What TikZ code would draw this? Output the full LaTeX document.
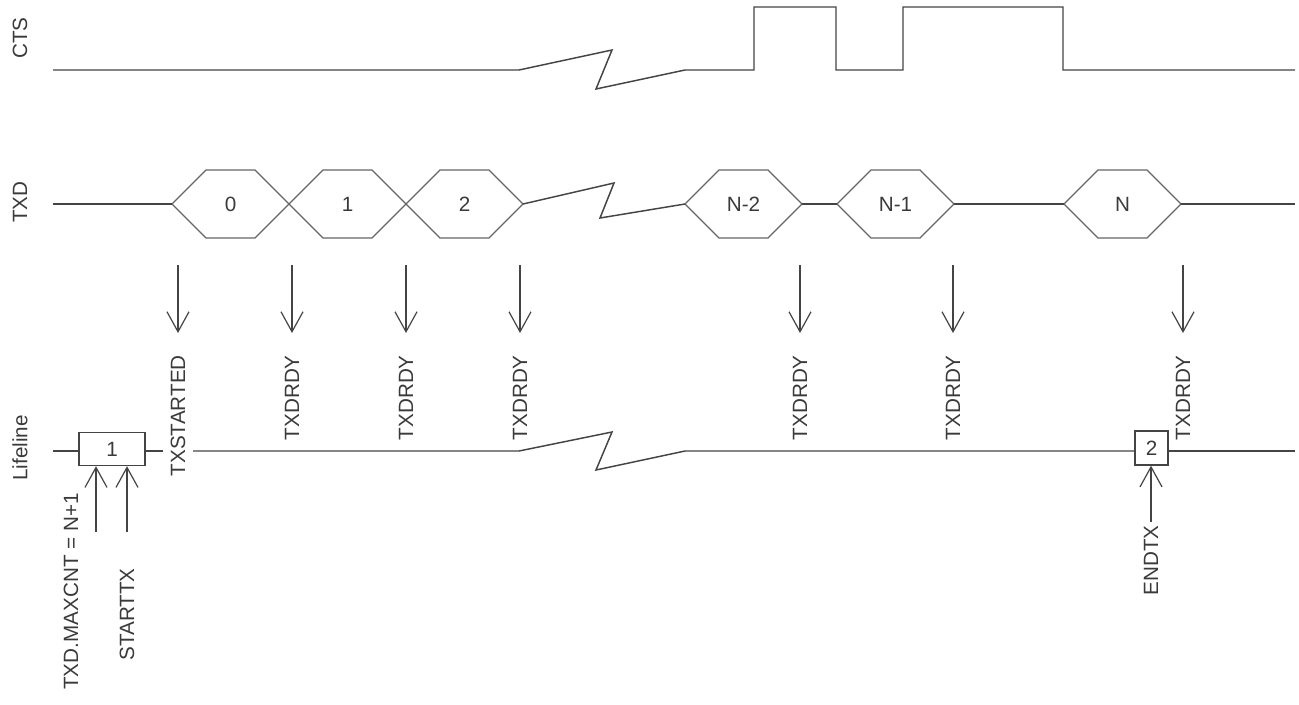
\documentclass[tikz,border=0pt]{standalone}
\usepackage{fontspec}
\setmainfont{Liberation Sans}
\usetikzlibrary{arrows.meta}
\definecolor{ln}{HTML}{444444}
\definecolor{tx}{HTML}{3A3A3A}
\definecolor{hx}{HTML}{666666}
\tikzset{
  wire/.style={draw=ln, line width=1.1pt, line join=miter},
  hexedge/.style={draw=hx, line width=1pt, line join=miter},
  lbl/.style={text=tx, font=\fontsize{15.5}{18}\selectfont, inner sep=0pt},
  vlbl/.style={lbl, rotate=90},
  evt/.style={draw=ln, line width=0.9pt, -{Straight Barb[length=15pt,width=16.5pt]}},
  regbox/.style={draw=ln, line width=1pt, rectangle, inner sep=0pt, text=tx,
    font=\fontsize{15.5}{18}\selectfont},
}
\newcommand\hexsym[3]{%
  \draw[hexedge] (#2,204) -- ++(34,-34) -- ++(49,0) -- ++(34,34) -- ++(-34,34) -- ++(-49,0) -- cycle;
  \node[lbl] (#1) at (#2+58.5,204) {#3};
  \coordinate (#1-l) at (#2,204);
  \coordinate (#1-r) at (#2+117,204);
}
\newcommand\evdown[3]{%
  \coordinate (#1-top) at (#2,265);
  \coordinate (#1-tip) at (#2,333);
  \node[vlbl, anchor=east] (#1) at (#2,355) {#3};
  \draw[evt] (#1-top) -- (#1-tip);
}
\begin{document}
\begin{tikzpicture}[x=0.75pt,y=-0.75pt]
\useasboundingbox (0,0) rectangle (1299,704);

% row labels
\node[vlbl] (ctsl) at (20,38) {CTS};
\node[vlbl] (txdl) at (20,202) {TXD};
\node[vlbl] (lifel) at (20,448) {Lifeline};

% CTS
\coordinate (cts-s) at (53,70);
\coordinate (cts-e) at (1295,70);
\draw[wire] (cts-s) -- (519,70) -- (612,50) -- (596,89) -- (685,70)
  -- (754,70) -- (754,7) -- (836,7) -- (836,70) -- (903,70) -- (903,7)
  -- (1063,7) -- (1063,70) -- (cts-e);

% TXD
\hexsym{h0}{172}{0}
\hexsym{h1}{289}{1}
\hexsym{h2}{406}{2}
\hexsym{hn2}{685}{N-2}
\hexsym{hn1}{837}{N-1}
\hexsym{hn}{1064}{N}
\coordinate (txd-s) at (53,204);
\coordinate (txd-e) at (1295,204);
\draw[wire] (txd-s) -- (h0-l);
\draw[wire] (h2-r) -- (614,183) -- (600,218) -- (hn2-l);
\draw[wire] (hn2-r) -- (hn1-l);
\draw[wire] (hn1-r) -- (hn-l);
\draw[wire] (hn-r) -- (txd-e);

% events
\evdown{e0}{178}{TXSTARTED}
\evdown{e1}{292}{TXDRDY}
\evdown{e2}{406}{TXDRDY}
\evdown{e3}{520}{TXDRDY}
\evdown{e4}{800}{TXDRDY}
\evdown{e5}{953}{TXDRDY}
\evdown{e6}{1183}{TXDRDY}

% lifeline
\node[regbox, minimum width=49.5pt, minimum height=24.75pt] (b1) at (112,449) {1};
\node[regbox, minimum width=24.75pt, minimum height=25.5pt] (b2) at (1151.5,448) {2};
\coordinate (lf-s) at (53,451);
\coordinate (lf-g1) at (163,451);
\coordinate (lf-g2) at (193,451);
\coordinate (lf-e) at (1295,451);
\draw[wire] (lf-s) -- (lf-s -| b1.west);
\draw[wire] (lf-g1 -| b1.east) -- (lf-g1);
\draw[wire] (lf-g2) -- (519,451) -- (612,432) -- (596,470) -- (685,451) -- (lf-e -| b2.west);
\draw[wire] (lf-e -| b2.east) -- (lf-e);

% tasks
\coordinate (u1) at (96,532);
\coordinate (u2) at (127,532);
\coordinate (u3) at (1151,522);
\draw[evt] (u1) -- (u1 |- b1.south);
\draw[evt] (u2) -- (u2 |- b1.south);
\draw[evt] (u3) -- (u3 |- b2.south);
\node[vlbl, anchor=east] (t1) at (71,493) {TXD.MAXCNT = N+1};
\node[vlbl, anchor=east] (t2) at (127,568) {STARTTX};
\node[vlbl, anchor=east] (t3) at (1151,525) {ENDTX};
\end{tikzpicture}
\end{document}
